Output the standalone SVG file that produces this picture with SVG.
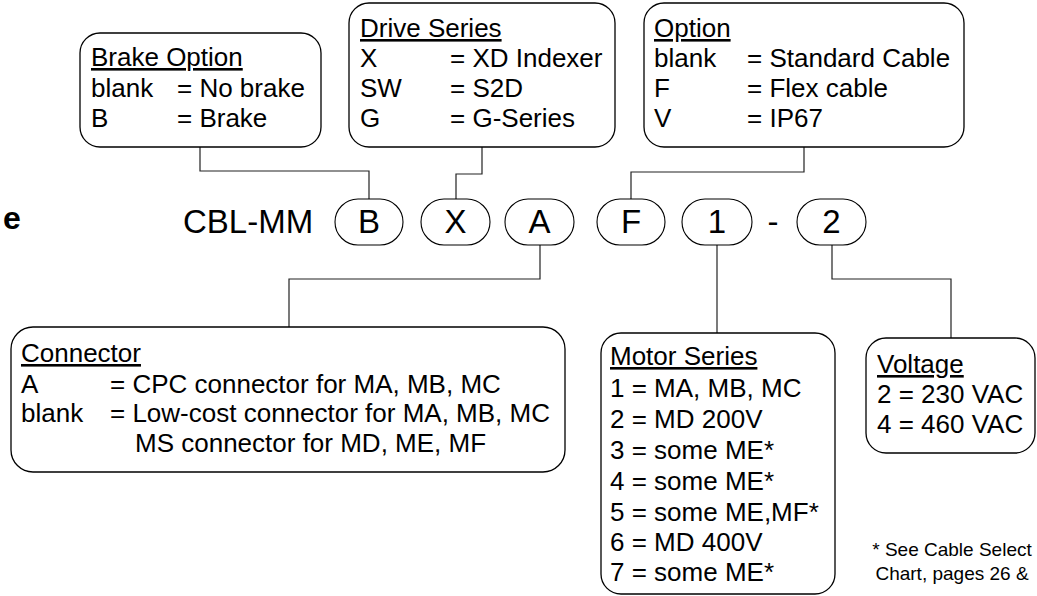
<svg xmlns="http://www.w3.org/2000/svg" width="1037" height="596" viewBox="0 0 1037 596">
  <style>
    .box { fill: #ffffff; stroke: #000000; stroke-width: 1.3; }
    .pill { fill: #ffffff; stroke: #000000; stroke-width: 1.1; }
    .wire { fill: none; stroke: #222222; stroke-width: 1.2; }
    text { font-family: "Liberation Sans", Arial, sans-serif; fill: #000000; }
    .t { font-size: 26px; }
    .h { font-size: 26px; text-decoration: underline; }
    .code { font-size: 33px; }
    .note { font-size: 19px; }
  </style>
  <rect width="1037" height="596" fill="#ffffff"/>

  <!-- clipped heading letter at the left edge -->
  <text x="3" y="229" font-size="32" font-weight="bold">e</text>

  <!-- connectors between option boxes and code positions -->
  <g id="connectors">
    <path class="wire" d="M200 147 V171 H369 V199"/>
    <path class="wire" d="M482 147 V174 H456 V199"/>
    <path class="wire" d="M804 147 V172 H631 V199"/>
    <path class="wire" d="M540 245 V279 H289 V327"/>
    <path class="wire" d="M717 245 V333"/>
    <path class="wire" d="M832 245 V279 H951 V338"/>
  </g>

  <!-- part number -->
  <g id="partnumber">
    <text class="code" x="183" y="233">CBL-MM</text>
    <text class="code" x="773" y="233" text-anchor="middle">-</text>
  </g>
  <g id="pill-B">
    <rect class="pill" x="335" y="199" width="68" height="46" rx="23"/>
    <text class="code" x="369" y="233" text-anchor="middle">B</text>
  </g>
  <g id="pill-X">
    <rect class="pill" x="421" y="199" width="69" height="46" rx="23"/>
    <text class="code" x="455.5" y="233" text-anchor="middle">X</text>
  </g>
  <g id="pill-A">
    <rect class="pill" x="505" y="199" width="69" height="46" rx="23"/>
    <text class="code" x="539.5" y="233" text-anchor="middle">A</text>
  </g>
  <g id="pill-F">
    <rect class="pill" x="597" y="199" width="68" height="46" rx="23"/>
    <text class="code" x="631" y="233" text-anchor="middle">F</text>
  </g>
  <g id="pill-1">
    <rect class="pill" x="682" y="199" width="70" height="46" rx="23"/>
    <text class="code" x="717" y="233" text-anchor="middle">1</text>
  </g>
  <g id="pill-2">
    <rect class="pill" x="797" y="199" width="69" height="46" rx="23"/>
    <text class="code" x="831.5" y="233" text-anchor="middle">2</text>
  </g>

  <!-- Brake option -->
  <g id="brake-option">
    <rect class="box" x="80" y="33" width="241" height="114" rx="20"/>
    <text class="h" x="91" y="66">Brake Option</text>
    <text class="t" x="91" y="97">blank</text>
    <text class="t" x="177" y="97">= No brake</text>
    <text class="t" x="91" y="127">B</text>
    <text class="t" x="177" y="127">= Brake</text>
  </g>

  <!-- Drive series -->
  <g id="drive-series">
    <rect class="box" x="349" y="3" width="266" height="144" rx="20"/>
    <text class="h" x="360" y="37">Drive Series</text>
    <text class="t" x="360" y="67">X</text>
    <text class="t" x="450" y="67">= XD Indexer</text>
    <text class="t" x="360" y="97">SW</text>
    <text class="t" x="450" y="97">= S2D</text>
    <text class="t" x="360" y="127">G</text>
    <text class="t" x="450" y="127">= G-Series</text>
  </g>

  <!-- Cable option -->
  <g id="cable-option">
    <rect class="box" x="644" y="3" width="320" height="144" rx="20"/>
    <text class="h" x="654" y="37">Option</text>
    <text class="t" x="654" y="67">blank</text>
    <text class="t" x="747" y="67">= Standard Cable</text>
    <text class="t" x="654" y="97">F</text>
    <text class="t" x="747" y="97">= Flex cable</text>
    <text class="t" x="654" y="127">V</text>
    <text class="t" x="747" y="127">= IP67</text>
  </g>

  <!-- Connector -->
  <g id="connector">
    <rect class="box" x="11" y="327" width="554" height="145" rx="22"/>
    <text class="h" x="21" y="362">Connector</text>
    <text class="t" x="21" y="393">A</text>
    <text class="t" x="110" y="393">= CPC connector for MA, MB, MC</text>
    <text class="t" x="21" y="422">blank</text>
    <text class="t" x="110" y="422">= Low-cost connector for MA, MB, MC</text>
    <text class="t" x="135" y="452">MS connector for MD, ME, MF</text>
  </g>

  <!-- Motor series -->
  <g id="motor-series">
    <rect class="box" x="601" y="333" width="234" height="261" rx="20"/>
    <text class="h" x="610" y="365">Motor Series</text>
    <text class="t" x="610" y="397">1 = MA, MB, MC</text>
    <text class="t" x="610" y="428">2 = MD 200V</text>
    <text class="t" x="610" y="459">3 = some ME*</text>
    <text class="t" x="610" y="490">4 = some ME*</text>
    <text class="t" x="610" y="521">5 = some ME,MF*</text>
    <text class="t" x="610" y="551">6 = MD 400V</text>
    <text class="t" x="610" y="581">7 = some ME*</text>
  </g>

  <!-- Voltage -->
  <g id="voltage">
    <rect class="box" x="866" y="338" width="169" height="115" rx="20"/>
    <text class="h" x="877" y="373">Voltage</text>
    <text class="t" x="877" y="403">2 = 230 VAC</text>
    <text class="t" x="877" y="433">4 = 460 VAC</text>
  </g>

  <!-- footnote -->
  <g id="footnote">
    <text class="note" x="952" y="556" text-anchor="middle">* See Cable Select</text>
    <text class="note" x="952" y="580" text-anchor="middle">Chart, pages 26 &amp;</text>
  </g>
</svg>
